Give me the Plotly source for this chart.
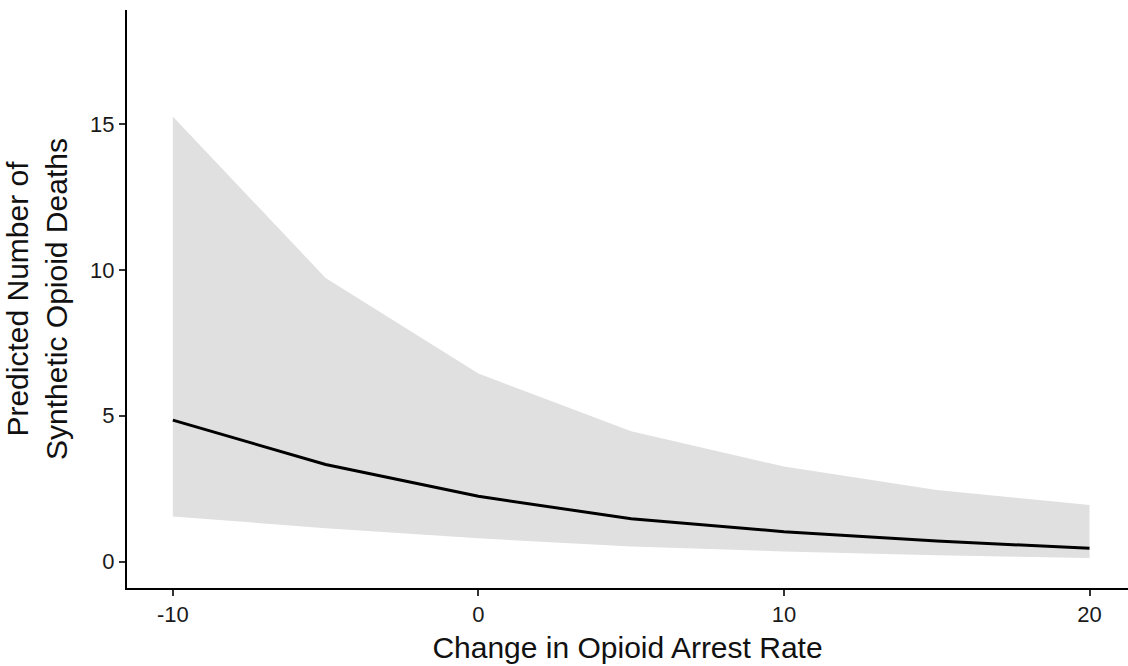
import plotly.graph_objects as go

# Predicted synthetic opioid deaths across changes in opioid arrest rate
arrest_change = [-10, -5, 0, 5, 10, 15, 20]
predicted = [4.85, 3.33, 2.24, 1.47, 1.03, 0.71, 0.46]
ci_upper = [15.25, 9.72, 6.45, 4.47, 3.26, 2.46, 1.94]
ci_lower = [1.55, 1.15, 0.80, 0.52, 0.35, 0.22, 0.13]

x_ticks = [-10, 0, 10, 20]
x_tick_labels = ["-10", "0", "10", "20"]
y_ticks = [0, 5, 10, 15]

FONT = "Liberation Sans, Arial, sans-serif"

fig = go.Figure()

# confidence band
fig.add_trace(go.Scatter(
    x=arrest_change + arrest_change[::-1],
    y=ci_upper + ci_lower[::-1],
    fill="toself", fillcolor="#E0E0E0",
    line=dict(width=0), mode="lines",
    hoverinfo="skip", showlegend=False,
))

# predicted count
fig.add_trace(go.Scatter(
    x=arrest_change, y=predicted, mode="lines",
    line=dict(color="black", width=3),
    showlegend=False,
))

axis_common = dict(
    showgrid=False, zeroline=False,
    showline=True, linecolor="black", linewidth=2,
    ticks="outside", ticklen=6, tickwidth=1.5, tickcolor="#333333",
    tickfont=dict(family=FONT, size=22, color="#1a1a1a"),
)

fig.update_layout(
    width=1128, height=666,
    margin=dict(l=127, r=0, t=10, b=78),
    paper_bgcolor="white", plot_bgcolor="white",
    xaxis=dict(
        range=[-11.5, 21.26], tickvals=x_ticks, ticktext=x_tick_labels,
        title=dict(text="Change in Opioid Arrest Rate", standoff=11,
                   font=dict(family=FONT, size=30, color="#111111")),
        **axis_common,
    ),
    yaxis=dict(
        range=[-0.9, 18.9], tickvals=y_ticks,
        title=dict(text="Predicted Number of<br>Synthetic Opioid Deaths", standoff=14,
                   font=dict(family=FONT, size=30, color="#111111")),
        **axis_common,
    ),
)

fig.write_html("out.html")
